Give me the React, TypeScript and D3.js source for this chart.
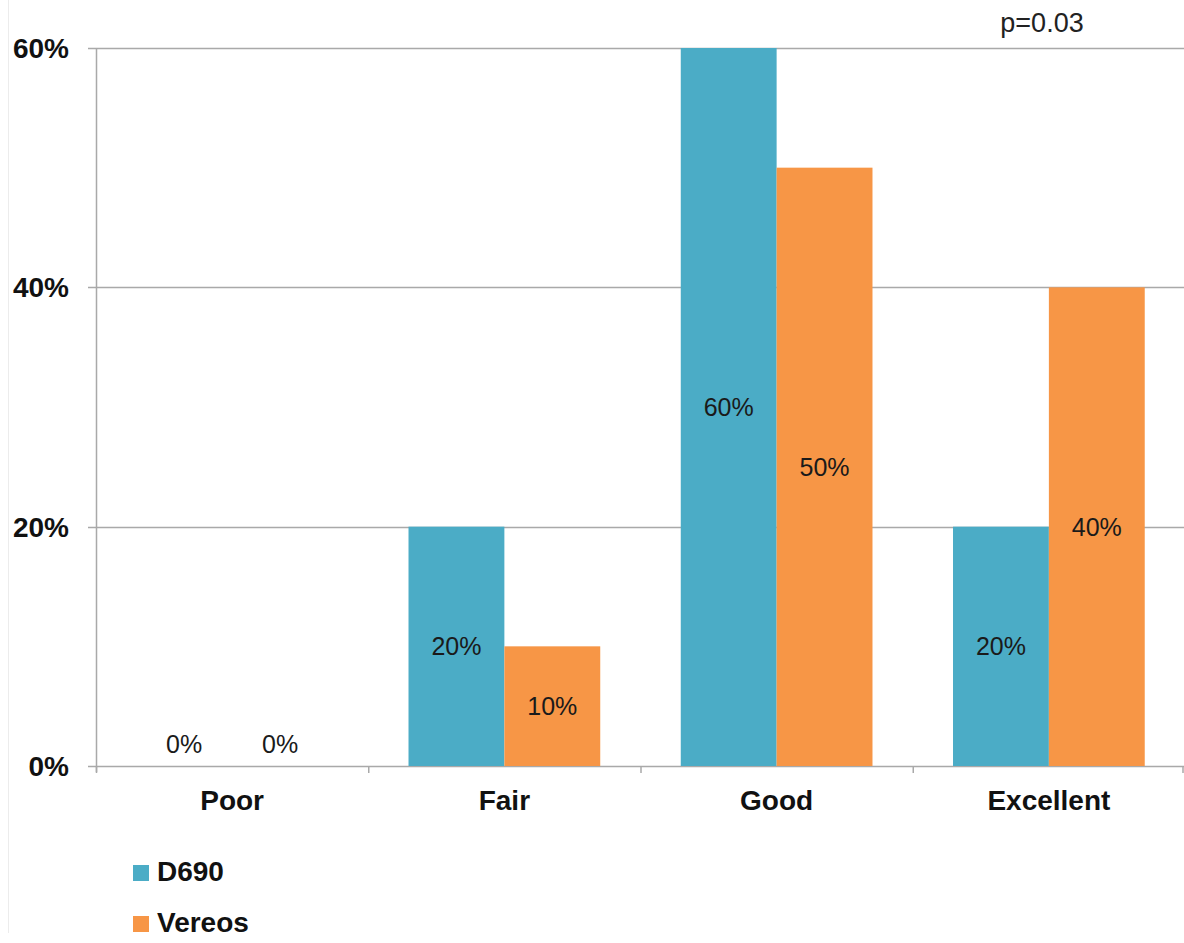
import React from "react";
import * as d3 from "d3";

// Image quality ratings by scanner, share of readers
const categories = ["Poor", "Fair", "Good", "Excellent"];
const seriesNames = ["D690", "Vereos"];
const d690Values = [0, 20, 60, 20];
const vereosValues = [0, 10, 50, 40];
const yTicks = [0, 20, 40, 60];
const annotation = "p=0.03";

const W = 1184;
const H = 943;
const margin = { left: 96, right: 0, top: 48, bottom: 177 };
const colors = ["#4BACC6", "#F79646"];
const FONT = "'Liberation Sans', Arial, sans-serif";

export default function App() {
  const x = d3
    .scaleBand<string>()
    .domain(categories)
    .range([margin.left, W - margin.right + 1])
    .paddingInner(0)
    .paddingOuter(0);
  const inner = d3
    .scaleBand<string>()
    .domain(seriesNames)
    .range([0, x.bandwidth()])
    .paddingOuter(0.42)
    .paddingInner(0);
  const y = d3.scaleLinear().domain([0, 60]).range([H - margin.bottom, margin.top]);
  const series = [d690Values, vereosValues];
  const gridColor = "#a9a9a9";

  return (
    <div style={{ position: "absolute", left: 0, top: 0 }}>
      <svg width={W} height={H} style={{ display: "block", background: "#fff" }}>
        <line x1={8.5} x2={8.5} y1={0} y2={933} stroke="#ececec" strokeWidth={1} />
        {yTicks.map((t) => (
          <g key={t}>
            <line
              x1={margin.left - 8}
              x2={W}
              y1={Math.round(y(t)) + 0.5}
              y2={Math.round(y(t)) + 0.5}
              stroke={gridColor}
              strokeWidth={1.5}
            />
            <text
              x={69}
              y={y(t)}
              dy="0.36em"
              textAnchor="end"
              fontFamily={FONT}
              fontWeight="bold"
              fontSize={28}
              fill="#111"
            >
              {t}%
            </text>
          </g>
        ))}
        {series.map((vals, si) =>
          categories.map((c, ci) => {
            const v = vals[ci];
            const bx = (x(c) as number) + (inner(seriesNames[si]) as number);
            const bw = inner.bandwidth();
            const top = y(v);
            const bottom = y(0);
            return (
              <g key={`${si}-${ci}`}>
                {v > 0 && (
                  <rect x={bx} y={top} width={bw} height={bottom - top} fill={colors[si]} />
                )}
                <text
                  x={bx + bw / 2}
                  y={v > 0 ? (top + bottom) / 2 : bottom - 22}
                  dy="0.36em"
                  textAnchor="middle"
                  fontFamily={FONT}
                  fontSize={25}
                  fill="#1a1a1a"
                >
                  {v}%
                </text>
              </g>
            );
          })
        )}
        {/* axes */}
        <line
          x1={margin.left + 0.5}
          x2={margin.left + 0.5}
          y1={y(60)}
          y2={y(0) + 6}
          stroke={gridColor}
          strokeWidth={1.5}
        />
        {categories.map((c) => (
          <line
            key={c}
            x1={(x(c) as number) + 0.5}
            x2={(x(c) as number) + 0.5}
            y1={y(0)}
            y2={y(0) + 7}
            stroke={gridColor}
            strokeWidth={1.5}
          />
        ))}
        <line x1={W - 1} x2={W - 1} y1={y(0)} y2={y(0) + 7} stroke={gridColor} strokeWidth={1.5} />
        {categories.map((c) => (
          <text
            key={c}
            x={(x(c) as number) + x.bandwidth() / 2}
            y={810}
            textAnchor="middle"
            fontFamily={FONT}
            fontWeight="bold"
            fontSize={28}
            fill="#111"
          >
            {c}
          </text>
        ))}
        {/* legend */}
        {seriesNames.map((s, i) => (
          <g key={s} transform={`translate(133, ${865 + i * 51})`}>
            <rect x={0} y={0} width={16} height={16} fill={colors[i]} />
            <text
              x={24}
              y={16}
              fontFamily={FONT}
              fontWeight="bold"
              fontSize={28}
              fill="#111"
            >
              {s}
            </text>
          </g>
        ))}
        <text
          x={1042}
          y={32}
          textAnchor="middle"
          fontFamily={FONT}
          fontSize={27}
          fill="#222"
        >
          {annotation}
        </text>
      </svg>
    </div>
  );
}
